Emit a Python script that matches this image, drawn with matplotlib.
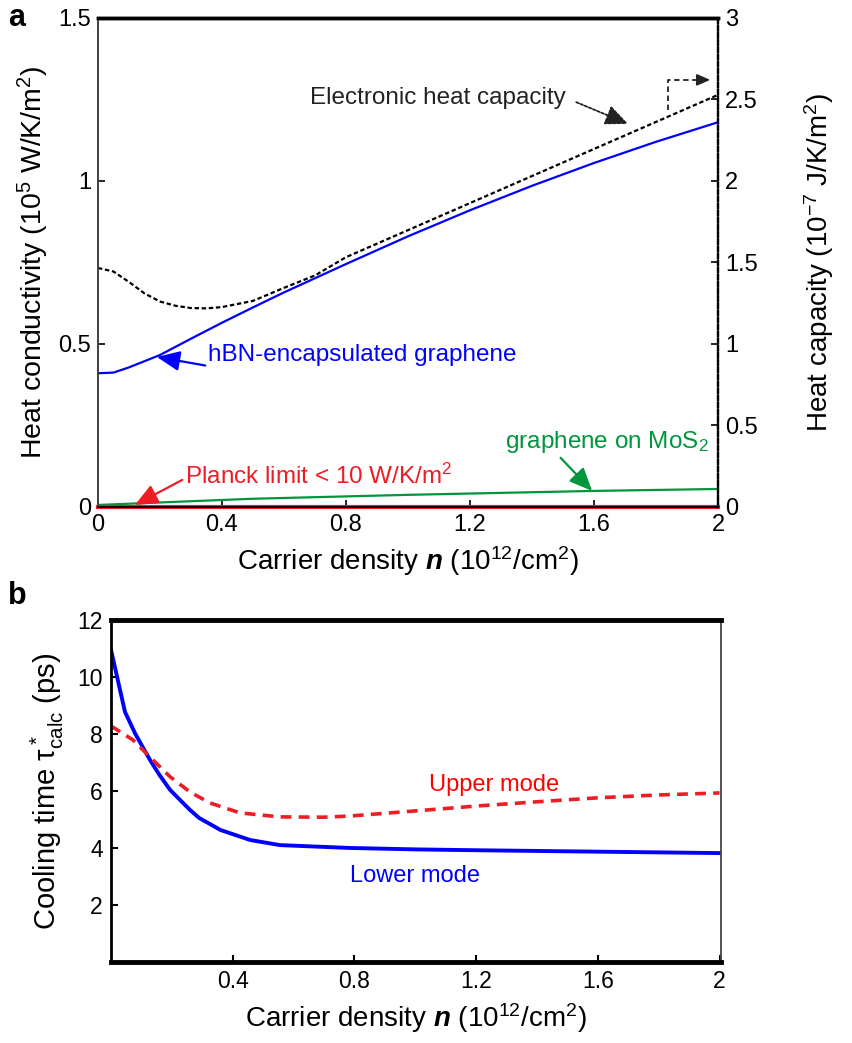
import numpy as np
import matplotlib
matplotlib.use("Agg")
import matplotlib.pyplot as plt

plt.rcParams['font.family'] = ['Liberation Sans', 'DejaVu Sans']
plt.rcParams['mathtext.fontset'] = 'custom'
plt.rcParams['mathtext.rm'] = 'Liberation Sans'
plt.rcParams['mathtext.it'] = 'Liberation Sans:italic'
plt.rcParams['mathtext.bf'] = 'Liberation Sans:bold'
plt.rcParams['mathtext.bfit'] = 'Liberation Sans:italic:bold'

# ---- panel a data ----
n_hbn = [0, 0.05, 0.1, 0.2, 0.3, 0.4, 0.5, 0.6, 0.8, 1.0, 1.2, 1.4, 1.6, 1.8, 2.0]
k_hbn = [0.41, 0.412, 0.428, 0.466, 0.516, 0.565, 0.612, 0.658, 0.745, 0.83, 0.91, 0.985, 1.055, 1.12, 1.18]

n_cap = [0, 0.05, 0.1, 0.15, 0.2, 0.25, 0.3, 0.35, 0.4, 0.5, 0.6, 0.7, 0.8, 1.0, 1.2, 1.4, 1.6, 1.8, 2.0]
cap = [1.466, 1.444, 1.38, 1.31, 1.26, 1.234, 1.22, 1.218, 1.226, 1.264, 1.344, 1.42, 1.532,
       1.698, 1.864, 2.03, 2.196, 2.362, 2.528]

n_mos2 = [0, 0.5, 1.0, 1.6, 2.0]
k_mos2 = [0.006, 0.025, 0.037, 0.049, 0.055]

n_planck = [0, 2.0]
k_planck = [0.0001, 0.0001]

# ---- panel b data ----
n_low = [0, 0.046, 0.08, 0.128, 0.16, 0.194, 0.23, 0.26, 0.29, 0.36, 0.457, 0.555, 0.785, 1.0, 1.2, 1.6, 2.0]
tau_low = [10.95, 8.77, 8.0, 7.09, 6.55, 6.04, 5.65, 5.33, 5.05, 4.63, 4.28, 4.1, 4.0, 3.95, 3.92, 3.87, 3.82]

n_up = [0, 0.072, 0.128, 0.194, 0.26, 0.325, 0.424, 0.555, 0.7, 0.785, 1.0, 1.2, 1.4, 1.6, 1.8, 2.0]
tau_up = [8.28, 7.79, 7.19, 6.5, 5.96, 5.58, 5.23, 5.09, 5.08, 5.12, 5.3, 5.47, 5.62, 5.76, 5.86, 5.93]

xticks_a = [0, 0.4, 0.8, 1.2, 1.6, 2]
xticklabels_a = ['0', '0.4', '0.8', '1.2', '1.6', '2']
yticks_a = [0, 0.5, 1, 1.5]
yticklabels_a = ['0', '0.5', '1', '1.5']
yticks_a2 = [0, 0.5, 1, 1.5, 2, 2.5, 3]
yticklabels_a2 = ['0', '0.5', '1', '1.5', '2', '2.5', '3']
xticks_b = [0.4, 0.8, 1.2, 1.6, 2]
xticklabels_b = ['0.4', '0.8', '1.2', '1.6', '2']
yticks_b = [2, 4, 6, 8, 10, 12]

blue = '#0000ff'
green = '#00963c'
red = '#ee1c25'
head = '-|>,head_length=0.8,head_width=0.35'

fig = plt.figure(figsize=(8.52, 10.43), dpi=100)

# ================= panel a =================
ax = fig.add_axes([0.115, 0.514, 0.7277, 0.4688])
ax2 = ax.twinx()

ax.plot(n_hbn, k_hbn, color=blue, lw=1.6)
ax.plot(n_mos2, k_mos2, color=green, lw=1.6)
ax.plot(n_planck, k_planck, color=red, lw=3, clip_on=False, zorder=5)
ax2.plot(n_cap, cap, color='black', lw=1.6, ls=(0, (2, 1.2)))

ax.set_xlim(0, 2)
ax.set_ylim(0, 1.5)
ax2.set_ylim(0, 3)
ax.set_xticks(xticks_a)
ax.set_xticklabels(xticklabels_a)
ax.set_yticks(yticks_a)
ax.set_yticklabels(yticklabels_a)
ax2.set_yticks(yticks_a2)
ax2.set_yticklabels(yticklabels_a2)
ax.tick_params(direction='in', length=5, width=1.2, labelsize=17, pad=5, top=False)
ax2.tick_params(direction='in', length=5, width=1.2, labelsize=17, pad=5)

for a in (ax, ax2):
    a.spines['top'].set_linewidth(2.5)
    a.spines['top'].set_color('black')
    a.spines['left'].set_color('#444444')
    a.spines['left'].set_linewidth(1.3)
    a.spines['bottom'].set_linewidth(1.3)
    a.spines['right'].set_linestyle((0, (2, 1.2)))
    a.spines['right'].set_linewidth(1.6)

ax.set_xlabel(r'Carrier density $\mathbfit{n}$ (10$^{12}$/cm$^2$)', fontsize=20, labelpad=6)
ax.set_ylabel(r'Heat conductivity (10$^5$ W/K/m$^2$)', fontsize=20.5, labelpad=5)
ax2.set_ylabel(r'Heat capacity (10$^{-7}$ J/K/m$^2$)', fontsize=20, labelpad=32)

# annotations
ax.annotate('Electronic heat capacity', xy=(1.71, 1.175), xytext=(0.684, 1.255),
            fontsize=17.5, color='#222222', va='center', ha='left',
            arrowprops=dict(arrowstyle=head, color='#222222',
                            ls=(0, (1.5, 1)), lw=1.3, shrinkA=6, shrinkB=0,
                            relpos=(1, 0.5)))
ax.plot([1.839, 1.839, 1.94], [1.218, 1.31, 1.31], color='#222222', lw=1.3, ls=(0, (3, 2)))
ax.annotate('', xy=(1.975, 1.31), xytext=(1.93, 1.31),
            arrowprops=dict(arrowstyle=head, color='#222222', lw=1.3, shrinkA=0, shrinkB=0))

ax.annotate('hBN-encapsulated graphene', xy=(0.19, 0.46), xytext=(0.355, 0.466),
            fontsize=17.5, color=blue, va='center', ha='left',
            arrowprops=dict(arrowstyle=head, color=blue,
                            lw=1.6, shrinkA=0, shrinkB=0, relpos=(0, 0)))

ax.annotate(r'Planck limit < 10 W/K/m$^2$', xy=(0.119, 0.006), xytext=(0.281, 0.095),
            fontsize=17.5, color=red, va='center', ha='left',
            arrowprops=dict(arrowstyle=head, color=red,
                            lw=1.6, shrinkA=0, shrinkB=0, relpos=(0, 0.4)))

ax.annotate(r'graphene on MoS$_2$', xy=(1.594, 0.049), xytext=(1.313, 0.199),
            fontsize=17.5, color=green, va='center', ha='left',
            arrowprops=dict(arrowstyle=head, color=green,
                            lw=1.6, shrinkA=0, shrinkB=0, relpos=(0.26, 0)))

fig.text(0.009, 0.997, 'a', fontsize=22, fontweight='bold', va='top', ha='left')

# ================= panel b =================
bx = fig.add_axes([0.1303, 0.0777, 0.7160, 0.3279])
bx.plot(n_low, tau_low, color=blue, lw=2.8)
bx.plot(n_up, tau_up, color=red, lw=2.6, ls=(0, (3, 2)))
bx.set_xlim(0, 2.005)
bx.set_ylim(0, 12)
bx.set_xticks(xticks_b)
bx.set_xticklabels(xticklabels_b)
bx.set_yticks(yticks_b)
bx.tick_params(direction='in', length=5, width=1.5, labelsize=16.5, pad=6)
bx.spines['top'].set_linewidth(3.5)
bx.spines['bottom'].set_linewidth(3.5)
bx.spines['left'].set_linewidth(2)
bx.spines['right'].set_linewidth(1.3)
bx.spines['right'].set_color('#444444')

bx.set_xlabel(r'Carrier density $\mathbfit{n}$ (10$^{12}$/cm$^2$)', fontsize=20, labelpad=6)
bx.set_ylabel(r'Cooling time $\mathrm{\tau}^*_{\rm calc}$ (ps)', fontsize=21, labelpad=8)

bx.text(1.045, 6.21, 'Upper mode', color='#ff0000', fontsize=17, va='center', ha='left')
bx.text(0.785, 3.02, 'Lower mode', color=blue, fontsize=17, va='center', ha='left')

fig.text(0.009, 0.443, 'b', fontsize=22, fontweight='bold', va='top', ha='left')

fig.savefig('out.png', dpi=100)
